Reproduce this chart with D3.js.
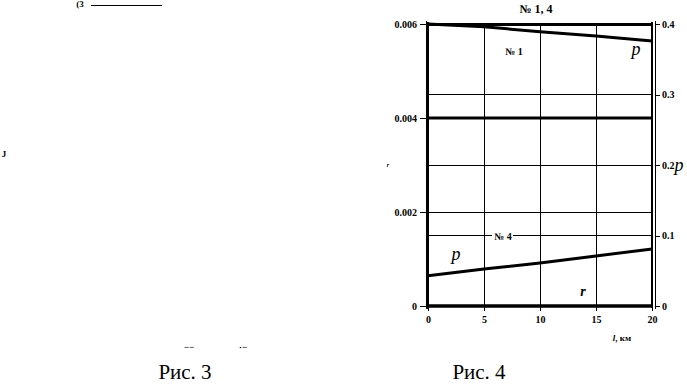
<!DOCTYPE html>
<html>
<head>
<meta charset="utf-8">
<script src="https://cdn.jsdelivr.net/npm/d3@7"></script>
<style>
  body { margin: 0; background: #fff; }
  svg { display: block; }
  text { font-family: "Liberation Serif", "DejaVu Serif", serif; fill: #000; }
  .it { font-style: italic; }
</style>
</head>
<body>
<svg id="chart" width="687" height="384"></svg>
<script>
// distance along the line, km
const distKm = [0, 5, 10, 15, 20];
// p for case 1 and case 4 (right axis)
const p1 = [0.4, 0.396, 0.389, 0.383, 0.376];
const p4 = [0.043, 0.0525, 0.061, 0.071, 0.081];
// r for case 1 and case 4 (left axis)
const r1 = [0.004, 0.004, 0.004, 0.004, 0.004];
const r4 = [0, 0, 0, 0, 0];

const xTicks = [0, 5, 10, 15, 20];
const rTicks = [0, 0.002, 0.004, 0.006];
const pTicks = [0, 0.1, 0.2, 0.3, 0.4];

const svg = d3.select("#chart");

const pLeft = 428, pRight = 652, pTop = 24, pBottom = 306;

const xScale = d3.scaleLinear().domain([0, 20]).range([pLeft, pRight]);
const yR = d3.scaleLinear().domain([0, 0.006]).range([pBottom, pTop]);
const yP = d3.scaleLinear().domain([0, 0.4]).range([pBottom, pTop]);

// grid lines
const grid = svg.append("g").attr("shape-rendering", "crispEdges");
grid.selectAll(".vgrid")
  .data(xTicks.filter(d => d > 0 && d < 20))
  .enter().append("line")
  .attr("x1", d => xScale(d)).attr("x2", d => xScale(d))
  .attr("y1", pTop).attr("y2", pBottom)
  .attr("stroke", "#000").attr("stroke-width", 1);

grid.selectAll(".hgridL")
  .data(rTicks.filter(d => d > 0 && d < 0.006))
  .enter().append("line")
  .attr("x1", pLeft).attr("x2", pRight)
  .attr("y1", d => yR(d)).attr("y2", d => yR(d))
  .attr("stroke", "#000").attr("stroke-width", 1);

grid.selectAll(".hgridR")
  .data(pTicks.filter(d => d > 0 && d < 0.4))
  .enter().append("line")
  .attr("x1", pLeft).attr("x2", pRight)
  .attr("y1", d => yP(d)).attr("y2", d => yP(d))
  .attr("stroke", "#000").attr("stroke-width", 1);

// frame
grid.append("line").attr("x1", pLeft).attr("x2", pRight + 1).attr("y1", pTop).attr("y2", pTop)
  .attr("stroke", "#000").attr("stroke-width", 3);
grid.append("line").attr("x1", pLeft).attr("x2", pLeft).attr("y1", pTop - 2).attr("y2", pBottom + 3)
  .attr("stroke", "#000").attr("stroke-width", 2);
grid.append("line").attr("x1", pRight).attr("x2", pRight).attr("y1", pTop - 2).attr("y2", pBottom + 2)
  .attr("stroke", "#000").attr("stroke-width", 1.5);

// left axis
const axL = svg.append("g")
  .attr("transform", `translate(${pLeft - 2},0)`)
  .call(d3.axisLeft(yR).tickValues(rTicks).tickSize(6).tickPadding(3)
    .tickFormat(d => d === 0 ? "0" : d3.format(".3f")(d)));
// right axis
const axR = svg.append("g")
  .attr("transform", `translate(${pRight + 3},0)`)
  .call(d3.axisRight(yP).tickValues(pTicks).tickSize(5).tickPadding(2)
    .tickFormat(d => d === 0 ? "0" : d3.format(".1f")(d)));
// bottom axis
const axB = svg.append("g")
  .attr("transform", `translate(0,${pBottom})`)
  .call(d3.axisBottom(xScale).tickValues(xTicks).tickSize(5).tickPadding(5));

[axL, axR, axB].forEach(ax => {
  ax.attr("shape-rendering", "crispEdges");
  ax.select(".domain").remove();
  ax.selectAll("line").attr("stroke", "#000");
  ax.selectAll("text")
    .style("font-family", "'Liberation Serif', serif").style("font-size", "10px").style("font-weight", "bold");
});
svg.append("line").attr("x1", pLeft - 2).attr("x2", pLeft - 2).attr("y1", pTop - 3).attr("y2", pBottom + 3)
  .attr("stroke", "#000").attr("stroke-width", 1).attr("shape-rendering", "crispEdges");
svg.append("line").attr("x1", pRight + 3).attr("x2", pRight + 3).attr("y1", pTop - 3).attr("y2", pBottom + 3)
  .attr("stroke", "#000").attr("stroke-width", 1).attr("shape-rendering", "crispEdges");

// label "№ 4" sits on the 0.1 grid line
svg.append("rect").attr("x", 492).attr("y", yP(0.1) - 6).attr("width", 21).attr("height", 11).attr("fill", "#fff");

// series
const rowsOf = vals => distKm.map((d, i) => ({ x: d, y: vals[i] }));
const lineR = d3.line().x(d => xScale(d.x)).y(d => yR(d.y));
const lineP = d3.line().x(d => xScale(d.x)).y(d => yP(d.y));

svg.append("path").datum(rowsOf(r1)).attr("d", lineR)
  .attr("fill", "none").attr("stroke", "#000").attr("stroke-width", 3);
svg.append("path").datum(rowsOf(r4)).attr("d", lineR)
  .attr("fill", "none").attr("stroke", "#000").attr("stroke-width", 3.5);
svg.append("path").datum(rowsOf(p1)).attr("d", lineP)
  .attr("fill", "none").attr("stroke", "#000").attr("stroke-width", 3);
svg.append("path").datum(rowsOf(p4)).attr("d", lineP)
  .attr("fill", "none").attr("stroke", "#000").attr("stroke-width", 3);

// texts
svg.append("text").attr("x", 536).attr("y", 13).attr("text-anchor", "middle")
  .style("font-size", "12px").style("font-weight", "bold").text("№ 1, 4");
svg.append("text").attr("x", 514).attr("y", 55).attr("text-anchor", "middle")
  .style("font-size", "10px").style("font-weight", "bold").text("№ 1");
svg.append("text").attr("x", 503).attr("y", yP(0.1) + 4).attr("text-anchor", "middle")
  .style("font-size", "10px").style("font-weight", "bold").text("№ 4");
svg.append("text").attr("class", "it").attr("x", 636).attr("y", 55).attr("text-anchor", "middle")
  .style("font-size", "18px").text("p");
svg.append("text").attr("class", "it").attr("x", 456).attr("y", 260).attr("text-anchor", "middle")
  .style("font-size", "18px").text("p");
svg.append("text").attr("class", "it").attr("x", 583).attr("y", 296).attr("text-anchor", "middle")
  .style("font-size", "14px").style("font-weight", "bold").text("r");
svg.append("text").attr("class", "it").attr("x", 679).attr("y", 171).attr("text-anchor", "middle")
  .style("font-size", "18px").text("p");
svg.append("text").attr("class", "it").attr("x", 388).attr("y", 167).attr("text-anchor", "middle")
  .style("font-size", "6px").style("font-weight", "bold").text("r");
svg.append("text").attr("x", 622).attr("y", 341).attr("text-anchor", "middle")
  .style("font-size", "9px").style("font-weight", "bold")
  .html('<tspan font-style="italic">l</tspan>, км');

// captions
svg.append("text").attr("x", 479).attr("y", 379).attr("text-anchor", "middle")
  .style("font-size", "21px").text("Рис. 4");
svg.append("text").attr("x", 185).attr("y", 379).attr("text-anchor", "middle")
  .style("font-size", "21px").text("Рис. 3");

// fragments of the neighbouring figure
svg.append("text").attr("x", 80).attr("y", 7).attr("text-anchor", "middle")
  .style("font-size", "9px").style("font-weight", "bold").text("(3");
svg.append("line").attr("x1", 91).attr("x2", 162).attr("y1", 5.5).attr("y2", 5.5)
  .attr("stroke", "#000").attr("stroke-width", 1).attr("shape-rendering", "crispEdges");
svg.append("text").attr("x", 4).attr("y", 157).attr("text-anchor", "middle")
  .style("font-size", "9px").style("font-weight", "bold").text("J");
svg.append("text").attr("x", 189).attr("y", 350).attr("text-anchor", "middle")
  .style("font-size", "9px").style("font-weight", "bold").text("−−");
svg.append("text").attr("x", 243).attr("y", 350).attr("text-anchor", "middle")
  .style("font-size", "9px").style("font-weight", "bold").text("·−");
</script>
</body>
</html>
